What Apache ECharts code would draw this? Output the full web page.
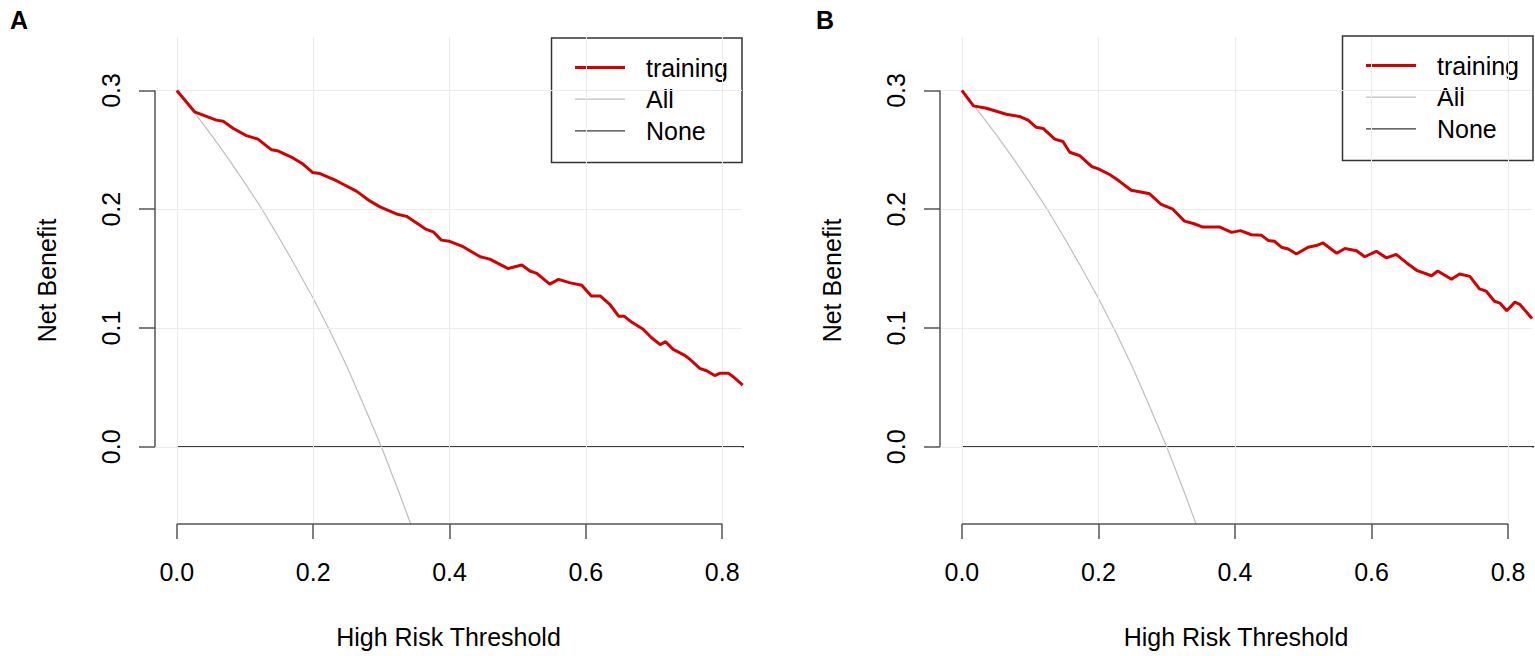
<!DOCTYPE html>
<html>
<head>
<meta charset="utf-8">
<style>
html,body{margin:0;padding:0;background:#fff;}
#chart{width:1535px;height:656px;}
</style>
<script src="https://cdn.jsdelivr.net/npm/echarts@6/dist/echarts.min.js"></script>
</head>
<body>
<div id="chart"></div>
<script>
// ---- tick labels ----
const X_TICKS = [0, 0.2, 0.4, 0.6, 0.8];
const Y_TICKS = [0, 0.1, 0.2, 0.3];
const SERIES_NAMES = ['training', 'All', 'None'];

// ---- Panel A ----
const A_training_x = [0.000,0.026,0.058,0.068,0.083,0.102,0.119,0.139,0.149,0.171,0.185,0.199,0.210,0.234,0.244,0.264,0.283,0.298,0.322,0.337,0.366,0.376,0.388,0.400,0.418,0.445,0.459,0.486,0.506,0.518,0.528,0.547,0.560,0.577,0.594,0.608,0.621,0.635,0.648,0.656,0.667,0.684,0.696,0.709,0.717,0.728,0.745,0.753,0.767,0.777,0.789,0.797,0.809,0.816,0.830];
const A_training_y = [0.300,0.282,0.275,0.274,0.268,0.262,0.259,0.250,0.249,0.243,0.238,0.231,0.230,0.224,0.221,0.215,0.207,0.202,0.196,0.194,0.183,0.181,0.174,0.173,0.169,0.160,0.158,0.150,0.153,0.148,0.146,0.137,0.141,0.138,0.136,0.127,0.127,0.120,0.110,0.110,0.105,0.099,0.092,0.086,0.0885,0.082,0.077,0.0735,0.066,0.064,0.060,0.062,0.062,0.059,0.052];
const A_all_x = [0.000,0.025,0.050,0.075,0.100,0.125,0.150,0.175,0.200,0.225,0.250,0.275,0.300,0.325,0.345];
const A_all_y = [0.300,0.282,0.263,0.243,0.222,0.200,0.176,0.151,0.125,0.097,0.067,0.034,0.000,-0.037,-0.068];
const A_none_x = [0.000,0.840];
const A_none_y = [0.000,0.000];

// ---- Panel B ----
const B_training_x = [0.000,0.017,0.036,0.065,0.085,0.097,0.109,0.119,0.136,0.148,0.158,0.173,0.190,0.200,0.217,0.231,0.248,0.258,0.275,0.292,0.309,0.326,0.339,0.353,0.378,0.395,0.408,0.424,0.439,0.449,0.458,0.468,0.478,0.490,0.507,0.519,0.529,0.549,0.561,0.578,0.590,0.607,0.622,0.636,0.651,0.666,0.688,0.697,0.717,0.729,0.744,0.758,0.768,0.780,0.788,0.798,0.810,0.817,0.835];
const B_training_y = [0.300,0.287,0.285,0.280,0.278,0.275,0.269,0.268,0.259,0.257,0.248,0.245,0.236,0.234,0.229,0.2235,0.216,0.215,0.213,0.204,0.200,0.190,0.188,0.185,0.185,0.1805,0.182,0.1785,0.178,0.1736,0.173,0.168,0.1665,0.1623,0.168,0.1694,0.1716,0.163,0.167,0.165,0.160,0.1646,0.159,0.162,0.155,0.1486,0.144,0.148,0.141,0.1455,0.1435,0.133,0.131,0.1225,0.121,0.1146,0.1218,0.120,0.108];
const B_all_x = [0.000,0.025,0.050,0.075,0.100,0.125,0.150,0.175,0.200,0.225,0.250,0.275,0.300,0.325,0.345];
const B_all_y = [0.300,0.282,0.263,0.243,0.222,0.200,0.176,0.151,0.125,0.097,0.067,0.034,0.000,-0.037,-0.068];
const B_none_x = [0.000,0.840];
const B_none_y = [0.000,0.000];

// ---- layout / style ----
const FONT = 'Liberation Sans, Arial, sans-serif';
const Y_MIN = -0.065, Y_MAX = 0.345, X_MIN = -0.032;
const X_MAX = [0.829, 0.835];
const RED = '#d40000', GRAY = '#bebebe', DARK = '#3a3a3a', AXIS = '#555555', GRID = '#ebebeb';

function zip(xs, ys) { return xs.map((x, i) => [x, ys[i]]); }

const panels = [
  {training: zip(A_training_x, A_training_y), all: zip(A_all_x, A_all_y), none: zip(A_none_x, A_none_y)},
  {training: zip(B_training_x, B_training_y), all: zip(B_all_x, B_all_y), none: zip(B_none_x, B_none_y)}
];

function gridLines(p) {
  const lines = [];
  X_TICKS.forEach(t => lines.push([{coord: [t, Y_MIN]}, {coord: [t, Y_MAX]}]));
  Y_TICKS.forEach(t => lines.push([{coord: [X_MIN, t]}, {coord: [X_MAX[p], t]}]));
  return lines;
}
function axisLines() {
  return [
    [{coord: [X_TICKS[0], Y_MIN]}, {coord: [X_TICKS[X_TICKS.length - 1], Y_MIN]}],
    [{coord: [X_MIN, Y_TICKS[0]]}, {coord: [X_MIN, Y_TICKS[Y_TICKS.length - 1]]}]
  ];
}

const series = [];
panels.forEach((pd, p) => {
  series.push({
    type: 'line', xAxisIndex: p, yAxisIndex: p, data: [], silent: true, clip: false, z: 1,
    markLine: {silent: true, symbol: ['none', 'none'], label: {show: false}, animation: false,
      lineStyle: {color: GRID, width: 1, type: 'solid'}, emphasis: {disabled: true}, data: gridLines(p)}
  });
  series.push({
    type: 'line', xAxisIndex: p, yAxisIndex: p, data: [], silent: true, clip: false, z: 2,
    markLine: {silent: true, symbol: ['none', 'none'], label: {show: false}, animation: false,
      lineStyle: {color: AXIS, width: 1.5, type: 'solid'}, emphasis: {disabled: true}, data: axisLines()}
  });
  series.push({name: 'None', type: 'line', xAxisIndex: p, yAxisIndex: p, data: pd.none, symbol: 'none',
    lineStyle: {color: DARK, width: 1.4}, itemStyle: {color: DARK}, z: 3, silent: true});
  series.push({name: 'All', type: 'line', xAxisIndex: p, yAxisIndex: p, data: pd.all, symbol: 'none',
    lineStyle: {color: GRAY, width: 1.2}, itemStyle: {color: GRAY}, z: 4, silent: true});
  series.push({name: 'training', type: 'line', xAxisIndex: p, yAxisIndex: p, data: pd.training, symbol: 'none',
    lineStyle: {color: RED, width: 3}, itemStyle: {color: RED}, z: 5, silent: true});
});

function xAxis(p) {
  return {
    gridIndex: p, type: 'value', min: X_MIN, max: X_MAX[p],
    axisLine: {show: false, onZero: false}, splitLine: {show: false},
    axisTick: {show: true, customValues: X_TICKS, length: 15, lineStyle: {color: AXIS, width: 1.5}},
    axisLabel: {customValues: X_TICKS, formatter: v => v.toFixed(1), fontSize: 25, fontFamily: FONT, color: '#000', margin: 35},
    name: 'High Risk Threshold', nameLocation: 'middle', nameGap: 100,
    nameTextStyle: {fontSize: 25, fontFamily: FONT, color: '#000'}
  };
}
function yAxis(p) {
  return {
    gridIndex: p, type: 'value', min: Y_MIN, max: Y_MAX,
    axisLine: {show: false, onZero: false}, splitLine: {show: false},
    axisTick: {show: true, customValues: Y_TICKS, length: 16, lineStyle: {color: AXIS, width: 1.5}},
    axisLabel: {customValues: Y_TICKS, formatter: v => v.toFixed(1), fontSize: 25, fontFamily: FONT, color: '#000', margin: 32, rotate: 90},
    name: 'Net Benefit', nameLocation: 'middle', nameGap: 96, nameRotate: 90,
    nameTextStyle: {fontSize: 25, fontFamily: FONT, color: '#000'}
  };
}
function legend(right, top) {
  return {
    data: SERIES_NAMES, orient: 'vertical', right: right, top: top, selectedMode: false,
    padding: [17, 14, 19, 22], itemGap: 6.7, itemWidth: 50, itemHeight: 14,
    borderColor: '#333', borderWidth: 1.5, backgroundColor: '#fff',
    itemStyle: {opacity: 0}, lineStyle: {width: 'inherit'},
    textStyle: {fontSize: 25, fontFamily: FONT, color: '#000', lineHeight: 25, padding: [0, 0, 0, 16]}
  };
}

const chart = echarts.init(document.getElementById('chart'), null, {renderer: 'svg'});
chart.setOption({
  animation: false,
  backgroundColor: '#fff',
  title: [
    {text: 'A', left: 5, top: 2, textStyle: {fontSize: 25, fontWeight: 'bold', fontFamily: FONT, color: '#000'}},
    {text: 'B', left: 811, top: 2, textStyle: {fontSize: 25, fontWeight: 'bold', fontFamily: FONT, color: '#000'}}
  ],
  grid: [
    {left: 155, top: 37, width: 587, height: 487},
    {left: 940, top: 37, width: 592, height: 487}
  ],
  xAxis: [xAxis(0), xAxis(1)],
  yAxis: [yAxis(0), yAxis(1)],
  legend: [legend(793, 38), legend(2, 36)],
  series: series
});
</script>
</body>
</html>
